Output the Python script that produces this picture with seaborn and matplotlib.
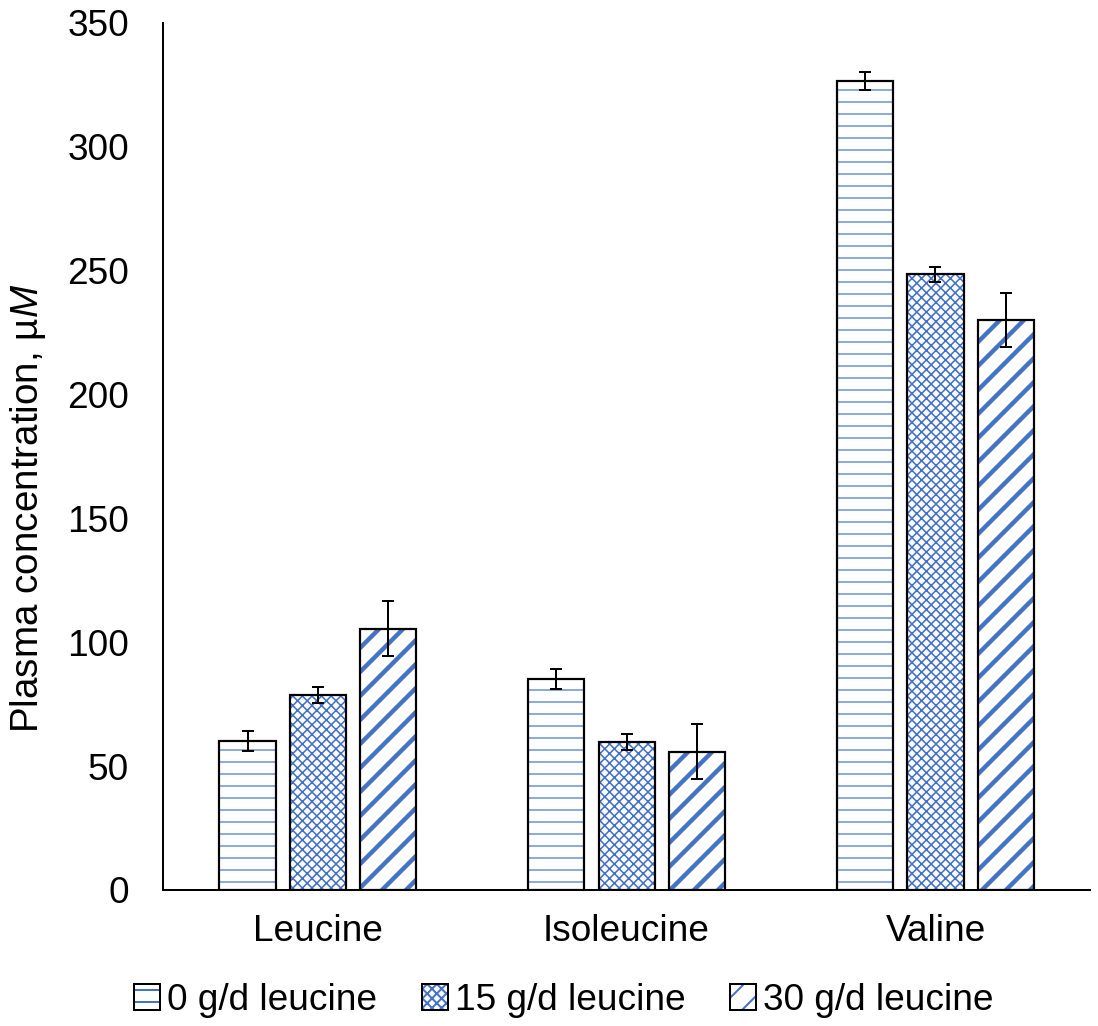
import matplotlib
matplotlib.use("Agg")
import matplotlib.pyplot as plt
import seaborn as sns
import pandas as pd
from matplotlib.patches import Patch

amino_acids = ["Leucine", "Isoleucine", "Valine"]
doses = ["0 g/d leucine", "15 g/d leucine", "30 g/d leucine"]
values_0 = [60.2, 85.3, 326.6]
values_15 = [78.8, 59.8, 248.6]
values_30 = [105.5, 55.8, 230.0]
err_0 = [4.0, 4.0, 3.6]
err_15 = [3.2, 3.2, 3.0]
err_30 = [11.0, 11.0, 11.0]
yticks = [0, 50, 100, 150, 200, 250, 300, 350]

sns.set_theme(style="white")
plt.rcParams["font.family"] = ["Liberation Sans", "DejaVu Sans"]
plt.rcParams["mathtext.fontset"] = "custom"
plt.rcParams["mathtext.rm"] = "Liberation Sans"
plt.rcParams["mathtext.it"] = "Liberation Sans:italic"
plt.rcParams["text.color"] = "black"
plt.rcParams["axes.labelcolor"] = "black"
plt.rcParams["xtick.color"] = "black"
plt.rcParams["ytick.color"] = "black"

FS = 18.5
BLUE = "#4472C4"
hatches = ["--", "xxxxx", "//"]
hatch_lw = [0.6, 0.8, 2.2]

rows = []
for aa, a, b, c in zip(amino_acids, values_0, values_15, values_30):
    rows.append((aa, doses[0], a))
    rows.append((aa, doses[1], b))
    rows.append((aa, doses[2], c))
df = pd.DataFrame(rows, columns=["aa", "dose", "value"])
errs = {doses[0]: err_0, doses[1]: err_15, doses[2]: err_30}

fig = plt.figure(figsize=(1098 / 144, 1026 / 144), dpi=144)
ax = fig.add_axes([0.1485, 0.1326, 0.9927 - 0.1485, 0.9776 - 0.1326])

# hatched fill pass
sns.barplot(data=df, x="aa", y="value", hue="dose", hue_order=doses,
            order=amino_acids, palette=["white"] * 3, width=0.68, gap=0.2,
            errorbar=None, legend=False, ax=ax)
for i, cont in enumerate(ax.containers):
    for p in cont.patches:
        p.set_facecolor("white")
        p.set_edgecolor(BLUE)
        p.set_hatch(hatches[i])
        p.set_linewidth(0)
        if hasattr(p, "set_hatch_linewidth"):
            p.set_hatch_linewidth(hatch_lw[i])
n_fill = len(ax.containers)

# outline pass
sns.barplot(data=df, x="aa", y="value", hue="dose", hue_order=doses,
            order=amino_acids, palette=["black"] * 3, width=0.68, gap=0.2,
            errorbar=None, legend=False, fill=False, linewidth=1.1, ax=ax)
for cont in ax.containers[n_fill:]:
    for p in cont.patches:
        p.set_facecolor("none")
        p.set_edgecolor("black")
        p.set_linewidth(1.1)
        p.set_zorder(3)

# error bars
for i, cont in enumerate(ax.containers[:n_fill]):
    xs = [p.get_x() + p.get_width() / 2 for p in cont.patches]
    ys = [p.get_height() for p in cont.patches]
    ax.errorbar(xs, ys, yerr=errs[doses[i]], fmt="none", ecolor="black",
                elinewidth=1.0, capsize=2.8, capthick=1.0, zorder=4)

ax.set_ylim(0, 350)
ax.set_yticks(yticks)
ax.set_xlim(-0.5, 2.5)
ax.set_xlabel("")
ax.set_ylabel("Plasma concentration, µ$\\mathit{M}$", fontsize=19.3)
ax.yaxis.set_label_coords(-0.124, 0.44)
ax.tick_params(axis="y", length=0, pad=17, labelsize=FS)
ax.tick_params(axis="x", length=0, pad=12, labelsize=FS)
for s in ["top", "right"]:
    ax.spines[s].set_visible(False)
for s in ["left", "bottom"]:
    ax.spines[s].set_color("black")
    ax.spines[s].set_linewidth(1.0)

handles = []
for i in range(3):
    h1 = Patch(facecolor="white", edgecolor=BLUE, hatch=hatches[i], linewidth=0)
    h2 = Patch(facecolor="none", edgecolor="black", linewidth=1.0)
    handles.append((h1, h2))
fig.legend(handles, doses, loc="center", bbox_to_anchor=(0.5137, 0.0253),
           ncol=3, frameon=False, fontsize=FS, handlelength=0.7,
           handleheight=0.7, handletextpad=0.2, columnspacing=1.2)

fig.savefig("out.png", dpi=144)
